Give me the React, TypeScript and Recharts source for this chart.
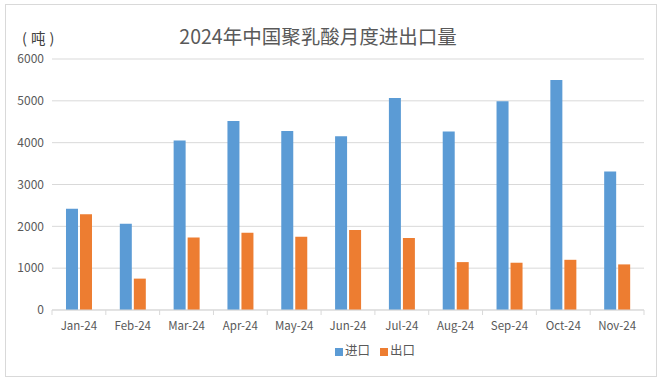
import { BarChart, Bar, XAxis, YAxis, CartesianGrid, Legend } from 'recharts'

const months = ['Jan-24', 'Feb-24', 'Mar-24', 'Apr-24', 'May-24', 'Jun-24', 'Jul-24', 'Aug-24', 'Sep-24', 'Oct-24', 'Nov-24']
const importTons = [2420, 2060, 4050, 4520, 4280, 4155, 5070, 4265, 4990, 5500, 3310]
const exportTons = [2290, 750, 1735, 1845, 1750, 1915, 1720, 1145, 1130, 1200, 1090]
const yTicks = [0, 1000, 2000, 3000, 4000, 5000, 6000]
const seriesOrder = ['进口', '出口']

const data = months.map((m, i) => ({ month: m, 进口: importTons[i], 出口: exportTons[i] }))

const W = 664
const H = 385
const MARGIN = { top: 59, right: 20, bottom: 21, left: 8 }
const Y_W = 44
const BAND = (W - MARGIN.left - MARGIN.right - Y_W) / months.length
const FONT = '"Noto Sans CJK SC", "Noto Sans", sans-serif'
const GRAY = '#595959'
const LINE = '#d9d9d9'

// Excel-style x tick: label under the band, small marks at band edges
function MonthTick(props: any) {
  const { x, y, payload, index } = props
  const left = x - BAND / 2
  return (
    <g>
      <line x1={left} x2={left} y1={y - 8} y2={y - 3} stroke={LINE} />
      {index === months.length - 1 && (
        <line x1={left + BAND} x2={left + BAND} y1={y - 8} y2={y - 3} stroke={LINE} />
      )}
      <text x={x} y={y + 12} textAnchor="middle" fill={GRAY} fontSize={11.5} fontFamily={FONT}>
        {payload.value}
      </text>
    </g>
  )
}

export default function App() {
  return (
    <div style={{ position: 'absolute', left: 0, top: 0, width: W, height: H, background: '#fff' }}>
      <div
        style={{
          position: 'absolute',
          left: 5,
          top: 4,
          width: 652,
          height: 373,
          border: `1px solid ${LINE}`,
          boxSizing: 'border-box',
        }}
      />
      <div
        style={{
          position: 'absolute',
          left: 0,
          width: W,
          top: 22,
          textAlign: 'center',
          fontFamily: FONT,
          fontSize: 19.5,
          lineHeight: '28px',
          color: GRAY,
        }}
      >
        <span style={{ position: 'relative', left: -14 }}>2024年中国聚乳酸月度进出口量</span>
      </div>
      <div
        style={{
          position: 'absolute',
          left: 22,
          top: 29,
          fontFamily: FONT,
          fontSize: 14.5,
          lineHeight: '18px',
          letterSpacing: 4,
          color: '#404040',
        }}
      >
        (吨)
      </div>
      <div style={{ position: 'absolute', left: 0, top: 0 }}>
        <BarChart width={W} height={H} data={data} margin={MARGIN} barCategoryGap="26%" barGap={2}>
          <CartesianGrid vertical={false} stroke={LINE} />
          <XAxis
            dataKey="month"
            stroke={LINE}
            tickLine={false}
            interval={0}
            height={30}
            tick={<MonthTick />}
          />
          <YAxis
            width={Y_W}
            domain={[0, 6000]}
            ticks={yTicks}
            axisLine={false}
            tickLine={false}
            tickMargin={2}
            tick={{ fontSize: 12, fill: GRAY, fontFamily: FONT }}
          />
          <Legend
            verticalAlign="bottom"
            height={24}
            iconType="square"
            iconSize={8}
            itemSorter={(item: any) => seriesOrder.indexOf(item.value)}
            wrapperStyle={{ fontFamily: FONT, fontSize: 12.5, paddingLeft: 54 }}
            formatter={(v) => <span style={{ color: GRAY, marginLeft: -2 }}>{v}</span>}
          />
          <Bar dataKey="进口" fill="#5b9bd5" isAnimationActive={false} />
          <Bar dataKey="出口" fill="#ed7d31" isAnimationActive={false} />
        </BarChart>
      </div>
    </div>
  )
}
